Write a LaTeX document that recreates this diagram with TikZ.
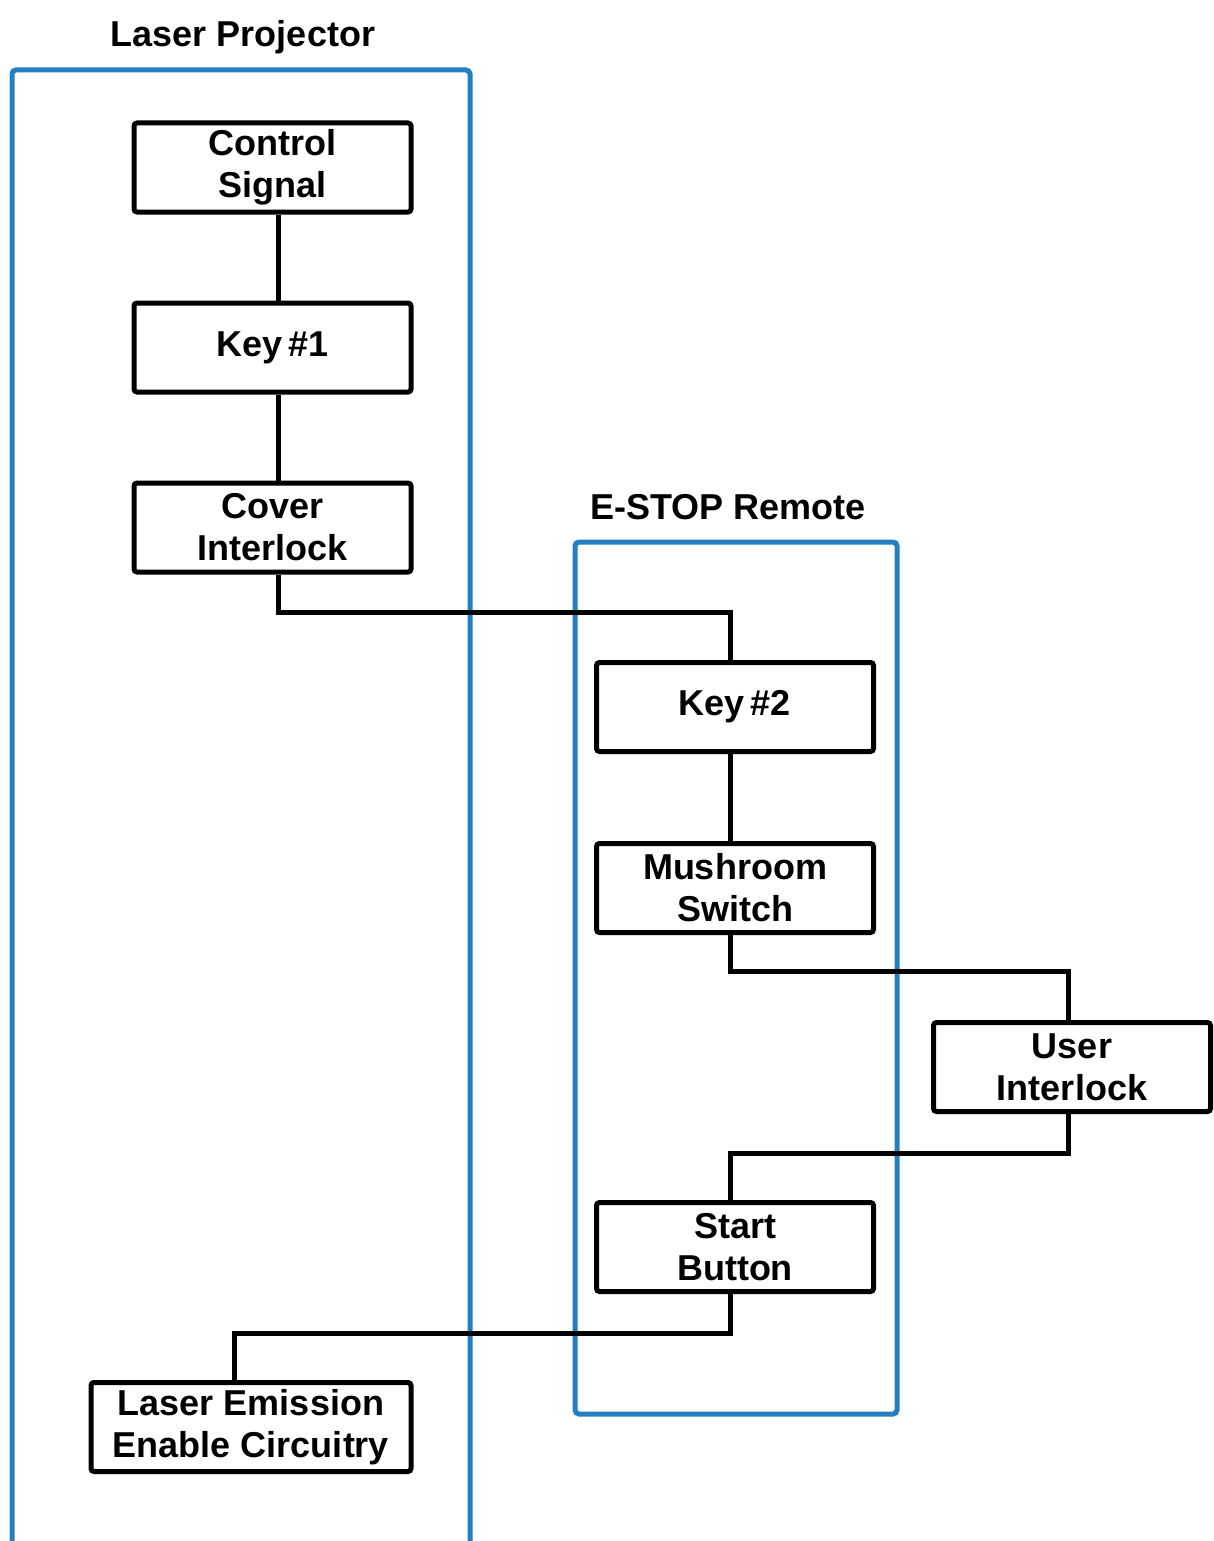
\documentclass[tikz,border=0pt]{standalone}
\usepackage{fontspec}
\setmainfont{Liberation Sans}
\definecolor{frameblue}{RGB}{34,128,192}
\begin{document}
\begin{tikzpicture}[x=1pt,y=-1pt,
  blk/.style={draw=black, line width=5pt, rounded corners=3pt, fill=white,
    minimum width=277pt, minimum height=89pt, inner sep=0pt, align=center,
    font=\bfseries\fontsize{36}{42}\selectfont},
  grp/.style={draw=frameblue, line width=5pt, rounded corners=4pt},
  lbl/.style={font=\bfseries\fontsize{36}{42}\selectfont, inner sep=0pt},
  wire/.style={draw=black, line width=5pt}]
\clip (0,0) rectangle (1213,1541);
\fill[white] (0,0) rectangle (1213,1541);
% group frames
\draw[grp] (12,1600) -- (12,70) -- (470,70) -- (470,1600);
\draw[grp] (575,542) rectangle (897,1414);
\node[lbl] (lp) at (243,37) {Laser Projector};
\node[lbl] (es) at (728,507) {E-STOP Remote};
% coordinates for wire bends
\coordinate (b1) at (278,612);
\coordinate (b2) at (730,612);
\coordinate (b3) at (730,971);
\coordinate (b4) at (1068,971);
\coordinate (b5) at (1068,1153);
\coordinate (b6) at (730,1153);
\coordinate (b7) at (730,1333);
\coordinate (b8) at (234,1333);
% blocks
\node[blk] (cs) at (272.5,167.5) {Control\\Signal};
\node[blk] (k1) at (272.5,347.5) {Key\,\#1};
\node[blk] (ci) at (272.5,527.5) {Cover\\Interlock};
\node[blk] (k2) at (735,707) {Key\,\#2};
\node[blk] (ms) at (735,888) {Mushroom\\Switch};
\node[blk] (ui) at (1072,1067) {User\\Interlock};
\node[blk] (sb) at (735,1247) {Start\\Button};
\node[blk, minimum width=320pt] (le) at (251,1427) {Laser Emission\\Enable Circuitry};
% wires
\draw[wire] (cs.south -| b1) -- (k1.north -| b1);
\draw[wire] (k1.south -| b1) -- (ci.north -| b1);
\draw[wire] (ci.south -| b1) -- (b1) -- (b2) -- (k2.north -| b2);
\draw[wire] (k2.south -| b2) -- (ms.north -| b2);
\draw[wire] (ms.south -| b3) -- (b3) -- (b4) -- (ui.north -| b4);
\draw[wire] (ui.south -| b5) -- (b5) -- (b6) -- (sb.north -| b6);
\draw[wire] (sb.south -| b7) -- (b7) -- (b8) -- (le.north -| b8);
\end{tikzpicture}
\end{document}
